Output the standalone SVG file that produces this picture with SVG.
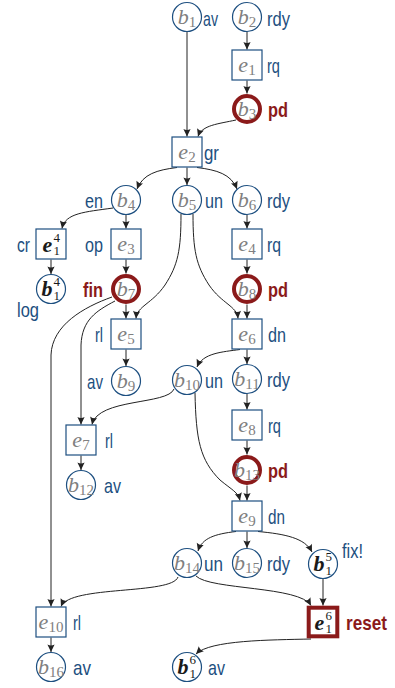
<svg xmlns="http://www.w3.org/2000/svg" width="395" height="688" viewBox="0 0 395 688">
<style>
.c{fill:#fff;stroke:#1d4f80;stroke-width:1.2}
.cr{fill:#fff;stroke:#8b1a1a;stroke-width:4}
.bx{fill:#fff;stroke:#1d4f80;stroke-width:1.2}
.bxr{fill:#fff;stroke:#8b1a1a;stroke-width:4}
.m{font-family:"Liberation Serif",serif;font-style:italic;font-size:22px;fill:#808080;text-anchor:middle}
.sub{font-style:normal;font-size:15px}
.mb{font-family:"Liberation Serif",serif;font-style:italic;font-weight:bold;font-size:22px;fill:#1a1a1a}
.sc{font-style:normal;font-weight:normal;font-size:13px}
.l{font-family:"Liberation Sans",Arial,sans-serif;font-size:21px;fill:#1d4f80}
.lr{font-family:"Liberation Sans",Arial,sans-serif;font-size:21px;font-weight:bold;fill:#8b1a1a}
.e{fill:none;stroke:#222;stroke-width:1;marker-end:url(#arr)}
</style>
<defs>
<marker id="arr" markerUnits="userSpaceOnUse" markerWidth="10" markerHeight="10" viewBox="-8 -5 10 10" refX="0" refY="0" orient="auto">
<path d="M0,0 L-7.5,-3.6 Q-5.5,0 -7.5,3.6 Z" fill="#222"/>
</marker>
</defs>
<rect width="395" height="688" fill="#fff"/>
<g id="connectors">
<path class="e" d="M187,31.5 L187,136.5"/>
<path class="e" d="M247,31.5 L247,49.5"/>
<path class="e" d="M247,80.5 L247,93.5"/>
<path class="e" d="M236,120 C218,124 202,125 198,136.5"/>
<path class="e" d="M177,167.5 C157,170 143,174 137,189"/>
<path class="e" d="M187,167.5 L187,185"/>
<path class="e" d="M197,167.5 C217,170 231,174 237,189"/>
<path class="e" d="M113,208 C85,212 65,213 62,228.5"/>
<path class="e" d="M126,214.5 L126,228.5"/>
<path class="e" d="M247,214.5 L247,228.5"/>
<path class="e" d="M181,214 C181,250 178,265 165,285 C152,304 137,306 136,318.5"/>
<path class="e" d="M193,214 C193,250 196,265 209,285 C222,304 237,306 238,318.5"/>
<path class="e" d="M51,259.5 L51,274"/>
<path class="e" d="M126,259.5 L126,273.5"/>
<path class="e" d="M247,259.5 L247,273.5"/>
<path class="e" d="M126,304.5 L126,318.5"/>
<path class="e" d="M247,304.5 L247,318.5"/>
<path class="e" d="M115,301 C96,311 82,320 81,345 L81,424.5"/>
<path class="e" d="M112,297 C84,307 52,325 51,355 L51,606.5"/>
<path class="e" d="M126,349.5 L126,366"/>
<path class="e" d="M240,349.5 C222,352 203,353 197,367"/>
<path class="e" d="M247,349.5 L247,364"/>
<path class="e" d="M174,389 C168,405 98,398 92,424.5"/>
<path class="e" d="M195,393 C196,440 200,460 220,480 C232,490 238,492 240,500.5"/>
<path class="e" d="M247,393.5 L247,409.5"/>
<path class="e" d="M247,440.5 L247,454.5"/>
<path class="e" d="M247,485.5 L247,500.5"/>
<path class="e" d="M81,455.5 L81,470"/>
<path class="e" d="M236,531.5 C215,534 202,538 198,551"/>
<path class="e" d="M247,531.5 L247,548"/>
<path class="e" d="M258,531.5 C285,534 305,538 312,552"/>
<path class="e" d="M178,577 C172,595 70,585 61,606.5"/>
<path class="e" d="M196,576 C210,590 300,586 311,605.5"/>
<path class="e" d="M323,578.5 L323,605.5"/>
<path class="e" d="M311,639 C270,640 210,640 196,654"/>
<path class="e" d="M51,637.5 L51,652"/>
</g>
<g id="b1"><circle class="c" cx="187" cy="17" r="14.5"/><text class="m" x="187" y="23.5">b<tspan class="sub" dy="3">1</tspan></text><text class="l" x="203" y="26" textLength="15" lengthAdjust="spacingAndGlyphs">av</text></g>
<g id="b2"><circle class="c" cx="247" cy="17" r="14.5"/><text class="m" x="247" y="23.5">b<tspan class="sub" dy="3">2</tspan></text><text class="l" x="267" y="26" textLength="23" lengthAdjust="spacingAndGlyphs">rdy</text></g>
<g id="e1"><rect class="bx" x="232" y="50" width="30" height="30"/><text class="m" x="247" y="71.5">e<tspan class="sub" dy="3">1</tspan></text><text class="l" x="267" y="73" textLength="13" lengthAdjust="spacingAndGlyphs">rq</text></g>
<g id="b3"><circle class="cr" cx="247" cy="109" r="13"/><text class="m" x="247" y="115.5">b<tspan class="sub" dy="3">3</tspan></text><text class="lr" x="268" y="117" textLength="20" lengthAdjust="spacingAndGlyphs">pd</text></g>
<g id="e2"><rect class="bx" x="172" y="137" width="30" height="30"/><text class="m" x="187" y="158.5">e<tspan class="sub" dy="3">2</tspan></text><text class="l" x="204" y="160" textLength="15" lengthAdjust="spacingAndGlyphs">gr</text></g>
<g id="b4"><circle class="c" cx="126" cy="200" r="14.5"/><text class="m" x="126" y="206.5">b<tspan class="sub" dy="3">4</tspan></text><text class="l" x="85" y="208" textLength="18" lengthAdjust="spacingAndGlyphs">en</text></g>
<g id="b5"><circle class="c" cx="187" cy="200" r="14.5"/><text class="m" x="187" y="206.5">b<tspan class="sub" dy="3">5</tspan></text><text class="l" x="205" y="208" textLength="18" lengthAdjust="spacingAndGlyphs">un</text></g>
<g id="b6"><circle class="c" cx="247" cy="200" r="14.5"/><text class="m" x="247" y="206.5">b<tspan class="sub" dy="3">6</tspan></text><text class="l" x="267" y="208" textLength="23" lengthAdjust="spacingAndGlyphs">rdy</text></g>
<g id="e1_4"><rect class="bx" x="36" y="229" width="30" height="30"/><text class="mb" x="42.5" y="251.5">e<tspan class="sc" x="53.5" y="241.5">4</tspan><tspan class="sc" x="53.5" y="255">1</tspan></text><text class="l" x="17" y="252" textLength="13" lengthAdjust="spacingAndGlyphs">cr</text></g>
<g id="e3"><rect class="bx" x="111" y="229" width="30" height="30"/><text class="m" x="126" y="250.5">e<tspan class="sub" dy="3">3</tspan></text><text class="l" x="85" y="252" textLength="18" lengthAdjust="spacingAndGlyphs">op</text></g>
<g id="e4"><rect class="bx" x="232" y="229" width="30" height="30"/><text class="m" x="247" y="250.5">e<tspan class="sub" dy="3">4</tspan></text><text class="l" x="267" y="252" textLength="14" lengthAdjust="spacingAndGlyphs">rq</text></g>
<g id="b1_4"><circle class="c" cx="51" cy="289" r="14.5"/><text class="mb" x="41.5" y="296">b<tspan class="sc" x="53.5" y="286">4</tspan><tspan class="sc" x="53.5" y="299.5">1</tspan></text><text class="l" x="17" y="317" textLength="22" lengthAdjust="spacingAndGlyphs">log</text></g>
<g id="b7"><circle class="cr" cx="126" cy="289" r="13"/><text class="m" x="126" y="295.5">b<tspan class="sub" dy="3">7</tspan></text><text class="lr" x="83" y="297" textLength="20" lengthAdjust="spacingAndGlyphs">fin</text></g>
<g id="b8"><circle class="cr" cx="247" cy="289" r="13"/><text class="m" x="247" y="295.5">b<tspan class="sub" dy="3">8</tspan></text><text class="lr" x="268" y="297" textLength="20" lengthAdjust="spacingAndGlyphs">pd</text></g>
<g id="e5"><rect class="bx" x="111" y="319" width="30" height="30"/><text class="m" x="126" y="340.5">e<tspan class="sub" dy="3">5</tspan></text><text class="l" x="95" y="342" textLength="8" lengthAdjust="spacingAndGlyphs">rl</text></g>
<g id="e6"><rect class="bx" x="232" y="319" width="30" height="30"/><text class="m" x="247" y="340.5">e<tspan class="sub" dy="3">6</tspan></text><text class="l" x="268" y="342" textLength="18" lengthAdjust="spacingAndGlyphs">dn</text></g>
<g id="b9"><circle class="c" cx="126" cy="381" r="14.5"/><text class="m" x="126" y="387.5">b<tspan class="sub" dy="3">9</tspan></text><text class="l" x="87" y="389" textLength="16" lengthAdjust="spacingAndGlyphs">av</text></g>
<g id="b10"><circle class="c" cx="187" cy="380" r="14.5"/><text class="m" x="187" y="386.5">b<tspan class="sub" dy="3">10</tspan></text><text class="l" x="205" y="388" textLength="18" lengthAdjust="spacingAndGlyphs">un</text></g>
<g id="b11"><circle class="c" cx="247" cy="379" r="14.5"/><text class="m" x="247" y="385.5">b<tspan class="sub" dy="3">11</tspan></text><text class="l" x="267" y="387" textLength="23" lengthAdjust="spacingAndGlyphs">rdy</text></g>
<g id="e7"><rect class="bx" x="66" y="425" width="30" height="30"/><text class="m" x="81" y="446.5">e<tspan class="sub" dy="3">7</tspan></text><text class="l" x="105" y="448" textLength="8" lengthAdjust="spacingAndGlyphs">rl</text></g>
<g id="e8"><rect class="bx" x="232" y="410" width="30" height="30"/><text class="m" x="247" y="431.5">e<tspan class="sub" dy="3">8</tspan></text><text class="l" x="268" y="433" textLength="13" lengthAdjust="spacingAndGlyphs">rq</text></g>
<g id="b12"><circle class="c" cx="81" cy="485" r="14.5"/><text class="m" x="81" y="491.5">b<tspan class="sub" dy="3">12</tspan></text><text class="l" x="104" y="493" textLength="17" lengthAdjust="spacingAndGlyphs">av</text></g>
<g id="b13"><circle class="cr" cx="247" cy="470" r="13"/><text class="m" x="247" y="476.5">b<tspan class="sub" dy="3">13</tspan></text><text class="lr" x="268" y="478" textLength="20" lengthAdjust="spacingAndGlyphs">pd</text></g>
<g id="e9"><rect class="bx" x="232" y="501" width="30" height="30"/><text class="m" x="247" y="522.5">e<tspan class="sub" dy="3">9</tspan></text><text class="l" x="268" y="524" textLength="17" lengthAdjust="spacingAndGlyphs">dn</text></g>
<g id="b14"><circle class="c" cx="187" cy="563" r="14.5"/><text class="m" x="187" y="569.5">b<tspan class="sub" dy="3">14</tspan></text><text class="l" x="204" y="571" textLength="19" lengthAdjust="spacingAndGlyphs">un</text></g>
<g id="b15"><circle class="c" cx="247" cy="563" r="14.5"/><text class="m" x="247" y="569.5">b<tspan class="sub" dy="3">15</tspan></text><text class="l" x="267" y="571" textLength="23" lengthAdjust="spacingAndGlyphs">rdy</text></g>
<g id="b1_5"><circle class="c" cx="323" cy="564" r="14.5"/><text class="mb" x="313.5" y="571">b<tspan class="sc" x="325.5" y="561">5</tspan><tspan class="sc" x="325.5" y="574.5">1</tspan></text><text class="l" x="342" y="558" textLength="21" lengthAdjust="spacingAndGlyphs">fix!</text></g>
<g id="e10"><rect class="bx" x="36" y="607" width="30" height="30"/><text class="m" x="51" y="628.5">e<tspan class="sub" dy="3">10</tspan></text><text class="l" x="73" y="630" textLength="8" lengthAdjust="spacingAndGlyphs">rl</text></g>
<g id="e1_6"><rect class="bxr" x="308.7" y="607.7" width="28.6" height="28.6"/><text class="mb" x="314.5" y="629.5">e<tspan class="sc" x="325.5" y="619.5">6</tspan><tspan class="sc" x="325.5" y="633">1</tspan></text><text class="lr" x="346" y="630" textLength="41" lengthAdjust="spacingAndGlyphs">reset</text></g>
<g id="b16"><circle class="c" cx="51" cy="667" r="14.5"/><text class="m" x="51" y="673.5">b<tspan class="sub" dy="3">16</tspan></text><text class="l" x="73" y="675" textLength="18" lengthAdjust="spacingAndGlyphs">av</text></g>
<g id="b1_6"><circle class="c" cx="187" cy="667" r="14.5"/><text class="mb" x="177.5" y="674">b<tspan class="sc" x="189.5" y="664">6</tspan><tspan class="sc" x="189.5" y="677.5">1</tspan></text><text class="l" x="208" y="675" textLength="17" lengthAdjust="spacingAndGlyphs">av</text></g>
</svg>
